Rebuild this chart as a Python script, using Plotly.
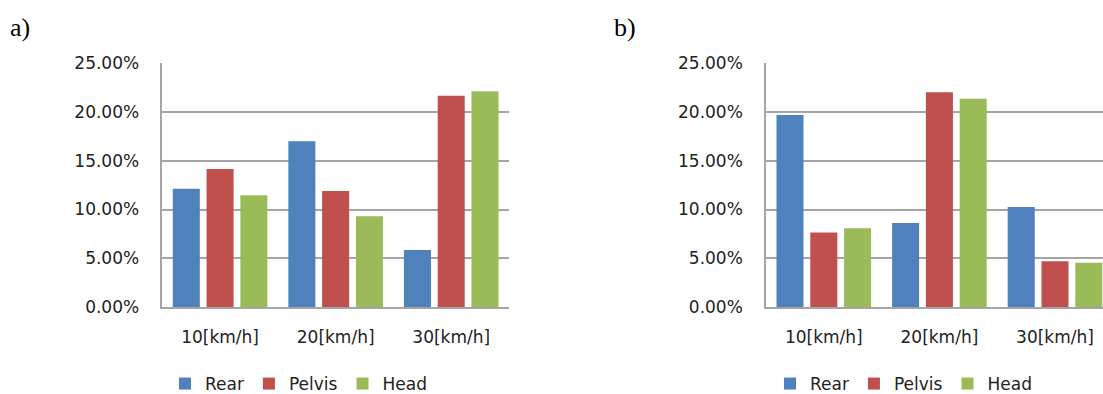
import plotly.graph_objects as go

categories = ["10[km/h]", "20[km/h]", "30[km/h]"]
series_names = ["Rear", "Pelvis", "Head"]
colors = ["#4F81BD", "#C0504D", "#9BBB59"]

a_rear = [0.1214, 0.1700, 0.0585]
a_pelvis = [0.1416, 0.1190, 0.2168]
a_head = [0.1146, 0.0930, 0.2213]

b_rear = [0.1970, 0.0862, 0.1026]
b_pelvis = [0.0763, 0.2202, 0.0469]
b_head = [0.0807, 0.2137, 0.0455]

y_ticks = [0.0, 0.05, 0.10, 0.15, 0.20, 0.25]

W, H = 1103, 394
FONT = dict(family="DejaVu Sans", size=17, color="#222222")
GRID = "#A5A5A5"

fig = go.Figure()
panel_a = [a_rear, a_pelvis, a_head]
panel_b = [b_rear, b_pelvis, b_head]
for name, vals, col in zip(series_names, panel_a, colors):
    fig.add_trace(go.Bar(x=categories, y=vals, name=name, marker=dict(color=col, line=dict(width=0)),
                         xaxis="x", yaxis="y", legend="legend"))
for name, vals, col in zip(series_names, panel_b, colors):
    fig.add_trace(go.Bar(x=categories, y=vals, name=name, marker=dict(color=col, line=dict(width=0)),
                         xaxis="x2", yaxis="y2", legend="legend2"))

ydom = [(H - 307) / H, (H - 63.3) / H]

def xax(domain, rng, anchor):
    return dict(domain=domain, range=rng, anchor=anchor, showgrid=False, showline=True,
                linecolor=GRID, linewidth=1.5, ticks="", tickfont=FONT, ticklabelstandoff=14,
                automargin=False, fixedrange=True)

def yax(anchor):
    return dict(domain=ydom, range=[0, 0.25], anchor=anchor, tickvals=y_ticks, tickformat=".2%",
                showgrid=True, gridcolor=GRID, gridwidth=1.5, showline=True, linecolor=GRID,
                linewidth=1.5, zeroline=False, ticks="", tickfont=FONT, ticklabelstandoff=18,
                automargin=False, fixedrange=True)

legend_common = dict(orientation="h", yanchor="middle", y=(H - 384) / H, xanchor="left",
                     font=FONT, bgcolor="rgba(0,0,0,0)", borderwidth=0, traceorder="normal")

fig.update_layout(
    width=W, height=H,
    margin=dict(l=0, r=0, t=0, b=0, autoexpand=False),
    paper_bgcolor="white", plot_bgcolor="white",
    barmode="group", bargap=0.123, bargroupgap=0.2,
    xaxis=xax([162.3 / W, 509 / W], [-0.5, 2.5], "y"),
    yaxis=yax("x"),
    xaxis2=xax([766 / W, 1.0], [-0.5, -0.5 + (1103 - 766) / 115.6], "y2"),
    yaxis2=yax("x2"),
    legend=dict(x=165 / W, **legend_common),
    legend2=dict(x=770 / W, **legend_common),
    annotations=[
        dict(text="a)", x=8 / W, y=(H - 27) / H, xref="paper", yref="paper", xanchor="left",
             yanchor="middle", showarrow=False, font=dict(family="Liberation Serif", size=26, color="black")),
        dict(text="b)", x=612 / W, y=(H - 27) / H, xref="paper", yref="paper", xanchor="left",
             yanchor="middle", showarrow=False, font=dict(family="Liberation Serif", size=26, color="black")),
    ],
)

fig.write_html("out.html", config={"displayModeBar": False},
               post_script="document.body.style.margin='0';document.body.style.overflow='hidden';")
